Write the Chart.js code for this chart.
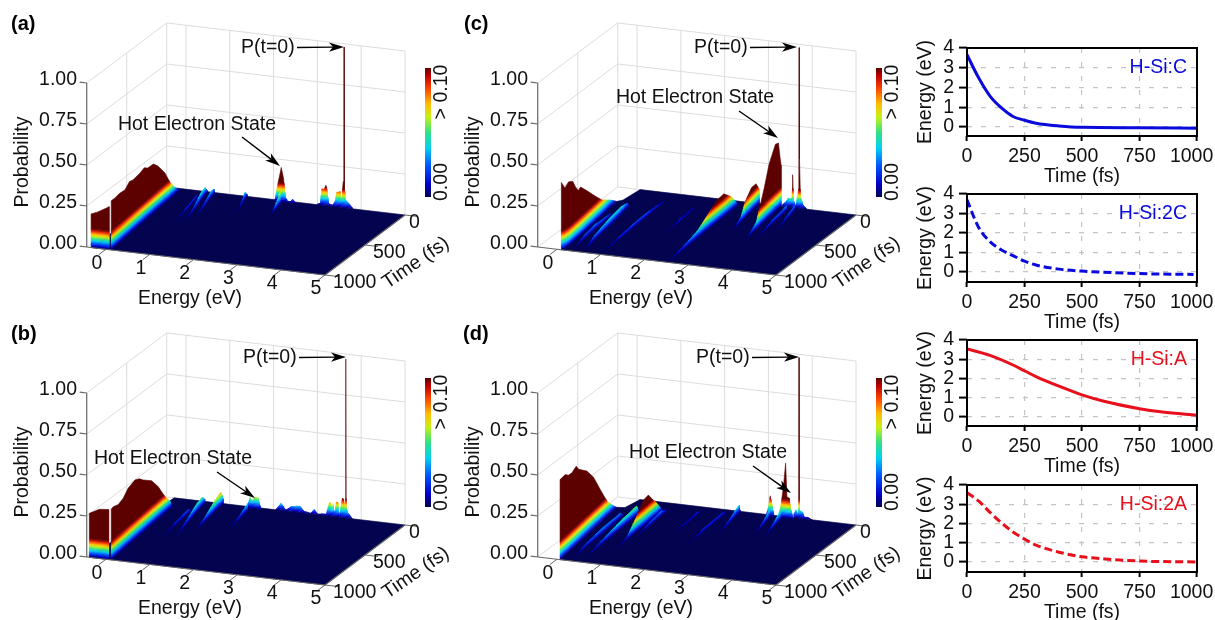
<!DOCTYPE html>
<html>
<head>
<meta charset="utf-8">
<title>Hot electron relaxation</title>
<script src="https://cdn.jsdelivr.net/npm/chart.js@4/dist/chart.umd.min.js"></script>
<style>
html, body { margin: 0; padding: 0; background: #fff; overflow: hidden; }
#stage { position: relative; width: 1215px; height: 620px; overflow: hidden; }
canvas { position: absolute; }
</style>
</head>
<body>
<div id="stage"></div>
<script>
// axis ticks of the 3D panels
const energyTicks = [0, 1, 2, 3, 4, 5];
const timeTicks = [0, 500, 1000];
const probTicks = [0, 0.25, 0.5, 0.75, 1];
const probLabels = ['0.00', '0.25', '0.50', '0.75', '1.00'];

// left outline of the floor in each panel, [energy eV, time fs]
const floorLeftA = [[-0.34,1000],[-0.27,0]];
const floorLeftB = [[-0.38,1000],[-0.27,0]];
const floorLeftC = [[0.1,1000],[-0.08,210],[0.01,180],[0.07,0]];
const floorLeftD = [[0.07,1000],[-0.19,150],[-0.02,140],[0.07,0]];

// every ridge is a list of [energy eV, time fs, probability]
const aFace = [[-0.34,1000,0.205],[-0.2,1000,0.22],[0,1000,0.25],[0.07,1000,0.262]];
const aWall = [[0.12,1000,0.30],[0.108,947,0.297],[0.093,880,0.30],[0.076,805,0.293],[0.062,740,0.32],[0.05,690,0.311],[0.028,590,0.316],[0.015,530,0.325],[0.004,480,0.305],[-0.014,400,0.30],[-0.029,335,0.263],[-0.051,235,0.184],[-0.067,164,0.10],[-0.083,93,0.04],[-0.10,20,0]];
const aFan = [[0.68,520,0],[0.58,330,0.015],[0.46,130,0.02],[0.42,60,0]];
const aR1 = [[0.84,470,0],[0.72,300,0.02],[0.58,120,0.05],[0.53,50,0.045],[0.5,0,0]];
const aR2 = [[0.93,380,0],[0.82,220,0.02],[0.72,80,0.04],[0.68,20,0.03]];
const aR3 = [[1.59,220,0],[1.5,120,0.02],[1.42,40,0.04],[1.4,0,0.01]];
const aHotFront = [[2.35,220,0],[2.28,100,0.05],[2.22,20,0.09]];
const aHot = [[2.06,20,0],[2.12,20,0.09],[2.19,20,0.18],[2.21,20,0.21],[2.26,20,0.15],[2.31,20,0.03],[2.35,20,0.01],[2.4,20,0],[2.47,20,0.025],[2.55,20,0]];
const aBack = [[3.0,0,0.005],[3.06,0,0.01],[3.1,0,0.1],[3.16,0,0.1],[3.19,0,0.125],[3.22,0,0.1],[3.26,0,0.015],[3.34,0,0.008],[3.4,0,0.03],[3.44,0,0.09],[3.52,0,0.095],[3.55,0,0.04],[3.59,0,0.16],[3.605,0,0.17],[3.608,0,0.98],[3.612,0,0.98],[3.615,0,0.17],[3.64,0,0.05],[3.72,0,0.03],[3.8,0,0.005]];
const panelARidges = [aBack, aHot, aWall, aFan, aR1, aR2, aR3, aHotFront, aFace];

const bFace = [[-0.38,1000,0.268],[-0.15,1000,0.30],[0.06,1000,0.305]];
const bWall = [[0.12,1000,0.31],[0.113,970,0.313],[0.098,900,0.30],[0.082,830,0.312],[0.066,760,0.347],[0.044,662,0.361],[0.03,600,0.345],[0.018,544,0.317],[-0.009,425,0.268],[-0.03,330,0.196],[-0.051,235,0.10],[-0.067,164,0.045],[-0.075,130,0]];
const bR0 = [[0.54,580,0],[0.47,380,0.018],[0.42,200,0.025],[0.4,150,0]];
const bR1 = [[0.8,555,0],[0.68,380,0.02],[0.56,180,0.05],[0.5,70,0.055],[0.47,20,0.02]];
const bR2 = [[1.02,425,0],[0.96,280,0.03],[0.9,130,0.07],[0.87,40,0.085],[0.85,0,0.03]];
const bHot = [[1.42,20,0],[1.5,20,0.065],[1.55,20,0.045],[1.6,20,0.07],[1.68,20,0.07],[1.75,20,0]];
const bHotFront = [[1.65,350,0],[1.58,200,0.02],[1.52,60,0.045]];
const bBack = [[2.05,0,0],[2.17,0,0.045],[2.28,0,0.005],[2.4,0,0.03],[2.5,0,0.035],[2.6,0,0.04],[2.7,0,0.01],[2.85,0,0.005],[2.93,0,0.03],[3.0,0,0.005],[3.2,0,0.01],[3.27,0,0.08],[3.31,0,0.08],[3.33,0,0.015],[3.36,0,0.08],[3.39,0,0.015],[3.43,0,0.09],[3.47,0,0.09],[3.5,0,0.01],[3.57,0,0.12],[3.6,0,0.11],[3.63,0,0.05],[3.645,0,0.12],[3.648,0,0.97],[3.652,0,0.97],[3.655,0,0.12],[3.68,0,0.04],[3.8,0,0]];
const panelBRidges = [bBack, bHot, bWall, bR0, bR1, bR2, bHotFront, bFace];

const cWall = [[0.1,1000,0.41],[0.13,973,0.367],[0.14,930,0.39],[0.13,872,0.37],[0.12,840,0.33],[0.11,795,0.286],[0.1,760,0.295],[0.07,667,0.238],[0.04,566,0.173],[0,440,0.095],[-0.05,310,0.046],[-0.08,210,0]];
const cRa = [[0.32,960,0],[0.27,800,0.025],[0.23,650,0.03],[0.2,445,0.02]];
const cRb = [[0.57,960,0],[0.5,800,0.03],[0.42,550,0.05],[0.36,400,0.05],[0.3,290,0.03],[0.28,250,0]];
const cRc = [[0.99,960,0],[0.96,700,0.02],[0.92,400,0.025],[0.88,150,0.01]];
const cRd = [[1.75,580,0],[1.7,400,0.015],[1.65,200,0.01]];
const cHump = [[2.53,990,0],[2.506,800,0.02],[2.48,600,0.045],[2.46,450,0.095],[2.45,350,0.135],[2.44,250,0.14],[2.426,150,0.085],[2.415,55,0]];
const cR1 = [[2.97,425,0],[2.92,300,0.03],[2.886,225,0.10],[2.844,125,0.145],[2.81,50,0.14],[2.79,0,0.085]];
const cHot = [[3.46,520,0],[3.413,376,0.045],[3.373,255,0.21],[3.35,183,0.325],[3.318,86,0.41],[3.303,40,0.40],[3.295,15,0.30],[3.29,0,0.25]];
const cBack = [[3.32,0,0.01],[3.4,0,0.03],[3.45,0,0.055],[3.5,0,0.05],[3.535,0,0.055],[3.55,0,0.19],[3.556,0,0.2],[3.57,0,0.05],[3.62,0,0.01],[3.68,0,0.1],[3.695,0,0.3],[3.7,0,0.98],[3.705,0,0.98],[3.715,0,0.3],[3.73,0,0.07],[3.8,0,0.02],[3.88,0,0]];
const cR2 = [[3.65,500,0],[3.58,250,0.025],[3.52,60,0.03]];
const cR3 = [[3.85,350,0],[3.75,180,0.02],[3.68,50,0.03]];
const panelCRidges = [cBack, cWall, cRa, cRb, cRc, cRd, cHump, cR1, cHot, cR2, cR3];

const dWall = [[0.07,1000,0.488],[0.05,924,0.49],[0.04,880,0.47],[0.02,824,0.463],[0,760,0.48],[-0.01,723,0.447],[-0.05,600,0.39],[-0.08,500,0.315],[-0.11,394,0.195],[-0.14,294,0.087],[-0.17,190,0.02],[-0.19,150,0]];
const dRa = [[0.3,960,0],[0.26,800,0.02],[0.22,550,0.035],[0.17,300,0.03],[0.15,250,0]];
const dRb = [[0.52,910,0],[0.49,700,0.025],[0.46,450,0.05],[0.43,240,0.06],[0.42,200,0]];
const dHump = [[0.89,740,0],[0.87,605,0.015],[0.85,470,0.093],[0.84,380,0.16],[0.83,313,0.166],[0.813,200,0.074],[0.803,132,0.012],[0.8,110,0]];
const dRc = [[0.98,540,0],[0.95,350,0.025],[0.92,200,0.03],[0.9,100,0]];
const dRd = [[1.64,400,0],[1.62,300,0.012],[1.6,120,0.015],[1.58,60,0]];
const dRe = [[2.2,550,0],[2.16,350,0.018],[2.13,100,0.02],[2.11,30,0]];
const dRf = [[2.53,350,0],[2.46,200,0.02],[2.4,80,0.04],[2.37,20,0.045],[2.36,0,0]];
const dP1 = [[2.98,20,0],[3.03,20,0.05],[3.08,20,0.125],[3.13,20,0.06],[3.17,20,0]];
const dP1Front = [[3.25,300,0],[3.17,150,0.025],[3.1,40,0.05]];
const dHot = [[3.27,20,0],[3.33,20,0.09],[3.38,20,0.19],[3.43,20,0.335],[3.46,20,0.13],[3.51,20,0.125],[3.55,20,0.06],[3.6,20,0]];
const dHotFront = [[3.5,300,0],[3.42,150,0.03],[3.36,40,0.06]];
const dBack = [[3.58,0,0.02],[3.63,0,0.05],[3.66,0,0.02],[3.695,0,0.06],[3.699,0,0.98],[3.703,0,0.98],[3.707,0,0.05],[3.78,0,0.04],[3.82,0,0.01],[3.9,0,0.012],[4.0,0,0]];
const panelDRidges = [dBack, dP1, dHot, dWall, dRa, dRb, dHump, dRc, dRd, dRe, dRf, dP1Front, dHotFront];

// panel (e) decay curves
const timeE1 = [0, 50, 100, 150, 200, 250, 300, 400, 500, 750, 1000];
const energyE1 = [3.66, 2.5, 1.56, 0.96, 0.53, 0.34, 0.19, 0.05, -0.02, -0.04, -0.07];
const timeE2 = [0, 50, 100, 150, 200, 250, 300, 400, 500, 750, 985];
const energyE2 = [3.7, 2.3, 1.56, 1.13, 0.84, 0.56, 0.36, 0.15, 0.05, -0.08, -0.12];
const timeE3 = [0, 100, 200, 250, 300, 400, 500, 600, 750, 850, 1000];
const energyE3 = [3.53, 3.2, 2.7, 2.4, 2.1, 1.6, 1.15, 0.8, 0.43, 0.26, 0.09];
const timeE4 = [0, 50, 100, 150, 200, 250, 300, 400, 500, 600, 750, 1000];
const energyE4 = [3.6, 3.17, 2.58, 2.03, 1.56, 1.19, 0.88, 0.51, 0.27, 0.16, 0.05, 0];
const timeTicksE = [0, 250, 500, 750, 1000];
const energyTicksE = [0, 1, 2, 3, 4];

const FONT = '"Liberation Sans", Arial, sans-serif';
const SIZE = 19.5;
const stage = document.getElementById('stage');
Chart.defaults.font.family = FONT;
Chart.defaults.animation = false;

function addCanvas(left, top, width, height) {
    const c = document.createElement('canvas');
    c.width = width;
    c.height = height;
    c.style.left = left + 'px';
    c.style.top = top + 'px';
    c.style.width = width + 'px';
    c.style.height = height + 'px';
    stage.appendChild(c);
    return c;
}

//////////////////////////////////////////////
// Projection of (energy, time, probability) on to the panel
//////////////////////////////////////////////
function project(e, t, p) {
    const tau = 1 - t / 1000;
    return {
        x: 325 - 43.8 * (5 - e) + 80 * tau,
        y: 275 - 5.15 * (5 - e) - 60 * tau - 164 * p
    };
}

//////////////////////////////////////////////
// Colour scale (jet, saturates above ~0.10)
//////////////////////////////////////////////
const jetStops = [
    [0, [3, 3, 80]], [0.1, [0, 0, 200]], [0.25, [0, 90, 255]], [0.38, [0, 210, 240]],
    [0.5, [50, 225, 130]], [0.62, [200, 240, 20]], [0.72, [255, 190, 0]],
    [0.84, [250, 70, 0]], [0.94, [190, 0, 0]], [1, [92, 0, 0]]
];

function jet(v) {
    for (let i = 1; i < jetStops.length; i++) {
        if (v <= jetStops[i][0]) {
            const a = jetStops[i - 1], b = jetStops[i];
            const f = (v - a[0]) / (b[0] - a[0]);
            const c = a[1].map((ch, k) => Math.round(ch + (b[1][k] - ch) * f));
            return `rgb(${c[0]},${c[1]},${c[2]})`;
        }
    }
    return 'rgb(92,0,0)';
}

const SAT = 0.115;
const BAND_COUNT = 16;
const bandLevels = [];
for (let i = 0; i <= BAND_COUNT; i++) bandLevels.push(SAT * i / BAND_COUNT);

// add a vertex wherever a ridge crosses a colour level
function refine(ridge) {
    const out = [];
    for (let i = 0; i < ridge.length - 1; i++) {
        const a = ridge[i], b = ridge[i + 1];
        out.push(a);
        const cuts = [];
        bandLevels.forEach(l => {
            if ((a[2] - l) * (b[2] - l) < 0) cuts.push((l - a[2]) / (b[2] - a[2]));
        });
        cuts.sort((m, n) => m - n).forEach(f => {
            out.push([a[0] + (b[0] - a[0]) * f, a[1] + (b[1] - a[1]) * f, a[2] + (b[2] - a[2]) * f]);
        });
    }
    out.push(ridge[ridge.length - 1]);
    return out;
}

function polygonSet(points, color, width) {
    return {
        data: points,
        showLine: true,
        fill: 'shape',
        backgroundColor: color,
        borderColor: color,
        borderWidth: width,
        pointRadius: 0,
        tension: 0,
        clip: false
    };
}

function lineSet(points, color, width) {
    return {
        data: points,
        showLine: true,
        fill: false,
        borderColor: color,
        borderWidth: width,
        pointRadius: 0,
        tension: 0,
        clip: false
    };
}

// one filled strip per colour level, from the floor up to the ridge top
function sheetSets(ridge) {
    const pts = refine(ridge);
    const sets = [];
    for (let b = 0; b <= BAND_COUNT; b++) {
        const lo = b === BAND_COUNT ? SAT : bandLevels[b];
        const hi = b === BAND_COUNT ? 9 : bandLevels[b + 1];
        const color = b === BAND_COUNT ? jet(1) : jet((b + 0.5) / BAND_COUNT);
        let run = [];
        const flush = () => {
            if (run.length < 2) { run = []; return; }
            const upper = run.map(q => project(q[0], q[1], Math.min(q[2], hi)));
            const lower = run.slice().reverse().map(q => project(q[0], q[1], Math.min(q[2], lo)));
            const poly = upper.concat(lower);
            poly.push(poly[0]);
            sets.push(polygonSet(poly, color, 0.6));
            run = [];
        };
        for (let i = 0; i < pts.length - 1; i++) {
            if (Math.max(pts[i][2], pts[i + 1][2]) > lo + 1e-6) {
                if (!run.length) run.push(pts[i]);
                run.push(pts[i + 1]);
            } else {
                flush();
            }
        }
        flush();
    }
    return sets;
}

//////////////////////////////////////////////
// Walls, floor and axes of a 3D panel
//////////////////////////////////////////////
const E_MIN = -0.44, E_MAX = 5;
const WALL = '#dcdcdc', AXIS = '#666666';

function wallSets() {
    const sets = [];
    probTicks.forEach(p => {
        sets.push(lineSet([project(E_MIN, 1000, p), project(E_MIN, 0, p), project(E_MAX, 0, p)], WALL, 1));
    });
    energyTicks.concat([E_MIN]).forEach(e => {
        sets.push(lineSet([project(e, 0, 0), project(e, 0, 1)], WALL, 1));
    });
    sets.push(lineSet([project(E_MIN, 500, 0), project(E_MIN, 500, 1)], WALL, 1));
    return sets;
}

function axisSets() {
    const sets = [];
    sets.push(lineSet([project(E_MIN, 1000, 0), project(E_MIN, 1000, 1)], AXIS, 1.2));
    sets.push(lineSet([project(E_MIN, 1000, 0), project(E_MAX, 1000, 0)], AXIS, 1.2));
    sets.push(lineSet([project(E_MAX, 1000, 0), project(E_MAX, 0, 0)], AXIS, 1.2));
    probTicks.forEach(p => sets.push(lineSet([project(E_MIN, 1000, p), project(E_MIN - 0.16, 1000, p)], AXIS, 1.2)));
    energyTicks.forEach(e => sets.push(lineSet([project(e, 1000, 0), project(e, 1090, 0)], AXIS, 1)));
    timeTicks.forEach(t => sets.push(lineSet([project(E_MAX, t, 0), project(E_MAX + 0.3, t, 0)], AXIS, 1)));
    return sets;
}

function floorSet(left) {
    const poly = [project(left[0][0], left[0][1], 0), project(E_MAX, 1000, 0), project(E_MAX, 0, 0)];
    left.slice().reverse().forEach(q => poly.push(project(q[0], q[1], 0)));
    return polygonSet(poly, jet(0), 0.6);
}

function drawArrow(ctx, x0, y0, x1, y1) {
    const a = Math.atan2(y1 - y0, x1 - x0);
    const len = 15, wing = 4.6, notch = 11;
    const ca = Math.cos(a), sa = Math.sin(a);
    ctx.strokeStyle = '#000';
    ctx.fillStyle = '#000';
    ctx.lineWidth = 1.4;
    ctx.beginPath();
    ctx.moveTo(x0, y0);
    ctx.lineTo(x1 - ca * notch, y1 - sa * notch);
    ctx.stroke();
    ctx.beginPath();
    ctx.moveTo(x1, y1);
    ctx.lineTo(x1 - ca * len - sa * wing, y1 - sa * len + ca * wing);
    ctx.lineTo(x1 - ca * notch, y1 - sa * notch);
    ctx.lineTo(x1 - ca * len + sa * wing, y1 - sa * len - ca * wing);
    ctx.closePath();
    ctx.fill();
}

function drawText(ctx, s, x, y, align, rot, font, color) {
    ctx.save();
    ctx.translate(x, y);
    ctx.rotate(rot || 0);
    ctx.font = font || SIZE + 'px ' + FONT;
    ctx.fillStyle = color || '#111';
    ctx.textAlign = align || 'center';
    ctx.textBaseline = 'middle';
    ctx.fillText(s, 0, 0);
    ctx.restore();
}

// labels, arrows and colour bar drawn on top of the panel
function panelLabels(cfg) {
    return {
        id: 'panelLabels',
        afterDatasetsDraw(chart) {
            const ctx = chart.ctx;
            probTicks.forEach((p, i) => {
                const q = project(E_MIN, 1000, p);
                drawText(ctx, probLabels[i], 77, q.y - 3, 'right');
            });
            energyTicks.forEach(e => {
                const q = project(e, 1000, 0);
                drawText(ctx, String(e), q.x - 9, q.y + 14);
            });
            timeTicks.forEach(t => {
                const q = project(E_MAX, t, 0);
                drawText(ctx, String(t), q.x + (t === 0 ? 4 : 8), q.y + 8, 'left');
            });
            drawText(ctx, 'Energy (eV)', 190, 299);
            drawText(ctx, 'Time (fs)', 416, 263, 'center', -0.6);
            drawText(ctx, 'Probability', 23, 162, 'center', -Math.PI / 2);
            drawText(ctx, cfg.tag, cfg.tagX, 24, 'left', 0, 'bold 20px ' + FONT, '#000');

            drawText(ctx, 'P(t=0)', cfg.spikeText, 48, 'left');
            drawArrow(ctx, cfg.spikeText + 56, 47.5, cfg.spikeText + 103, 47);
            drawText(ctx, 'Hot Electron State', cfg.hotText[0], cfg.hotText[1]);
            drawArrow(ctx, cfg.hotArrow[0], cfg.hotArrow[1], cfg.hotArrow[2], cfg.hotArrow[3]);

            const grad = ctx.createLinearGradient(0, 197, 0, 68);
            jetStops.forEach(s => grad.addColorStop(s[0], jet(s[0])));
            ctx.fillStyle = grad;
            ctx.fillRect(425, 68, 6, 129);
            drawText(ctx, '> 0.10', 442, 92, 'center', -Math.PI / 2);
            drawText(ctx, '0.00', 442, 182, 'center', -Math.PI / 2);
        }
    };
}

function makePanel(cfg) {
    const canvas = addCanvas(cfg.left, cfg.top, 450, 310);
    let sets = wallSets();
    sets = sets.concat(axisSets().slice(0, 1));
    sets.push(floorSet(cfg.floorLeft));
    cfg.ridges.forEach(r => { sets = sets.concat(sheetSets(r)); });
    sets = sets.concat(axisSets().slice(1));
    // chart.js paints the first dataset last
    sets.reverse();
    new Chart(canvas, {
        type: 'scatter',
        data: { datasets: sets },
        options: {
            responsive: false,
            layout: { padding: 0 },
            scales: {
                x: { type: 'linear', display: false, min: 0, max: 450 },
                y: { type: 'linear', display: false, min: 0, max: 310, reverse: true }
            },
            plugins: { legend: { display: false }, tooltip: { enabled: false } }
        },
        plugins: [panelLabels(cfg)]
    });
}

makePanel({ left: 0, top: 0, tag: '(a)', tagX: 11, floorLeft: floorLeftA, ridges: panelARidges, spikeText: 241, hotText: [197, 125], hotArrow: [242, 137, 280, 166] });
makePanel({ left: 0, top: 310, tag: '(b)', tagX: 11, floorLeft: floorLeftB, ridges: panelBRidges, spikeText: 243, hotText: [173, 149], hotArrow: [217, 162, 255, 188] });
makePanel({ left: 451, top: 0, tag: '(c)', tagX: 13, floorLeft: floorLeftC, ridges: panelCRidges, spikeText: 243, hotText: [244, 98], hotArrow: [288, 111, 327, 138] });
makePanel({ left: 451, top: 310, tag: '(d)', tagX: 12, floorLeft: floorLeftD, ridges: panelDRidges, spikeText: 245, hotText: [257, 143], hotArrow: [302, 156, 340, 183] });

//////////////////////////////////////////////
// Panel (e) line charts
//////////////////////////////////////////////
function makeDecay(cfg) {
    const plotLeft = 967, plotRight = 1197;
    const canvasLeft = 905, padTop = 10;
    const below = 52;
    const canvas = addCanvas(canvasLeft, cfg.top - padTop, 320, padTop + cfg.height + below);
    new Chart(canvas, {
        type: 'line',
        data: {
            labels: cfg.times,
            datasets: [{
                data: cfg.times.map((t, i) => ({ x: t, y: cfg.energies[i] })),
                borderColor: cfg.color,
                borderWidth: 3,
                borderDash: cfg.dash,
                pointRadius: 0,
                cubicInterpolationMode: 'monotone',
                fill: false
            }]
        },
        options: {
            responsive: false,
            layout: { padding: { top: padTop, right: canvasLeft + 320 - plotRight, bottom: 0, left: 0 } },
            scales: {
                x: {
                    type: 'linear', min: 0, max: 1000,
                    grid: { color: '#c4c4c4', lineWidth: 1.2, tickColor: '#000', tickLength: 5, tickWidth: 2, tickBorderDash: [] },
                    border: { display: false, dash: [5, 9] },
                    afterBuildTicks: s => { s.ticks = timeTicksE.map(v => ({ value: v })); },
                    afterFit: s => { s.height = below; s.paddingLeft = 0; s.paddingRight = 0; },
                    // the last label sits a little left so it stays inside the page
                    ticks: { color: '#111', font: { size: SIZE }, padding: 4, maxRotation: 0, autoSkip: false, callback: v => v === 1000 ? '1000\u00a0\u00a0' : String(v) },
                    title: { display: true, text: 'Time (fs)', color: '#111', font: { size: SIZE }, padding: 0 }
                },
                y: {
                    type: 'linear', min: cfg.yMin, max: 4,
                    grid: { color: '#c4c4c4', lineWidth: 1.2, tickColor: '#000', tickLength: 8, tickWidth: 2, tickBorderDash: [] },
                    border: { display: false, dash: [5, 9] },
                    afterBuildTicks: s => { s.ticks = energyTicksE.map(v => ({ value: v })); },
                    afterFit: s => { s.width = plotLeft - canvasLeft; s.paddingTop = 0; s.paddingBottom = 0; },
                    ticks: { color: '#111', font: { size: SIZE }, padding: 5, autoSkip: false, callback: v => String(v) },
                    title: { display: true, text: 'Energy (eV)', color: '#111', font: { size: SIZE }, padding: { top: 9, bottom: 0 } }
                }
            },
            plugins: { legend: { display: false }, tooltip: { enabled: false } }
        },
        plugins: [{
            id: 'decayBox',
            afterDatasetsDraw(chart) {
                const a = chart.chartArea, ctx = chart.ctx;
                ctx.save();
                ctx.strokeStyle = '#000';
                ctx.lineWidth = 2;
                ctx.strokeRect(a.left, a.top, a.right - a.left, a.bottom - a.top);
                ctx.restore();
                drawText(ctx, cfg.label, a.right - 10, a.top + 20, 'right', 0, SIZE + 'px ' + FONT, cfg.color);
            }
        }]
    });
}

makeDecay({ top: 48, height: 88, yMin: -0.46, times: timeE1, energies: energyE1, color: '#0a0adc', dash: [], label: 'H-Si:C' });
makeDecay({ top: 194, height: 88, yMin: -0.51, times: timeE2, energies: energyE2, color: '#0a0adc', dash: [8, 4], label: 'H-Si:2C' });
makeDecay({ top: 340, height: 86, yMin: -0.47, times: timeE3, energies: energyE3, color: '#e8101c', dash: [], label: 'H-Si:A' });
makeDecay({ top: 485, height: 87, yMin: -0.52, times: timeE4, energies: energyE4, color: '#e8101c', dash: [8, 4], label: 'H-Si:2A' });
</script>
</body>
</html>
